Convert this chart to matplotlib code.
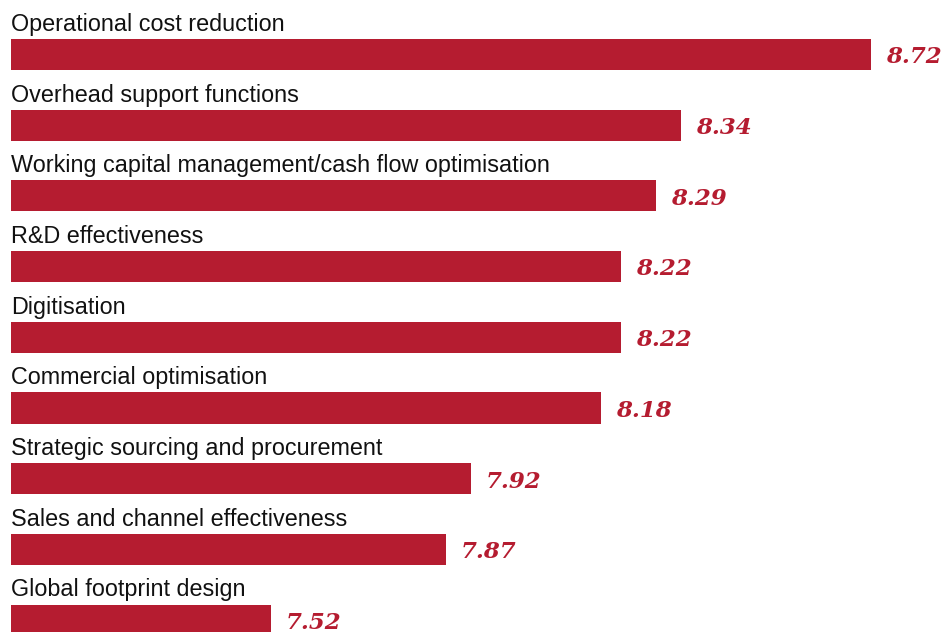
import matplotlib.pyplot as plt

labels = ["Operational cost reduction", "Overhead support functions",
          "Working capital management/cash flow optimisation", "R&D effectiveness",
          "Digitisation", "Commercial optimisation", "Strategic sourcing and procurement",
          "Sales and channel effectiveness", "Global footprint design"]
scores = [8.72, 8.34, 8.29, 8.22, 8.22, 8.18, 7.92, 7.87, 7.52]

red = "#b51c30"
base = 7.0

fig = plt.figure(figsize=(9.41, 6.32), dpi=100)
ax = fig.add_axes([0, 0, 1, 1])

pos = list(range(len(labels)))
ax.barh(pos, [s - base for s in scores], left=base, height=0.44, color=red)

for i in pos:
    ax.text(base, i - 0.335, labels[i], fontsize=16.8, family="Liberation Sans",
            color="#111111", va="baseline", ha="left")
    ax.text(scores[i] + 0.03, i + 0.04, "%.2f" % scores[i], fontsize=16.5,
            family="DejaVu Serif", weight="bold", style="italic",
            color=red, va="center", ha="left")

ax.set_xlim(base - 11 / 500, base - 11 / 500 + 941 / 500)
ax.set_ylim((632 - 54.5) / 70.7, -54.5 / 70.7)
ax.axis("off")

fig.savefig("out.png", dpi=100)
